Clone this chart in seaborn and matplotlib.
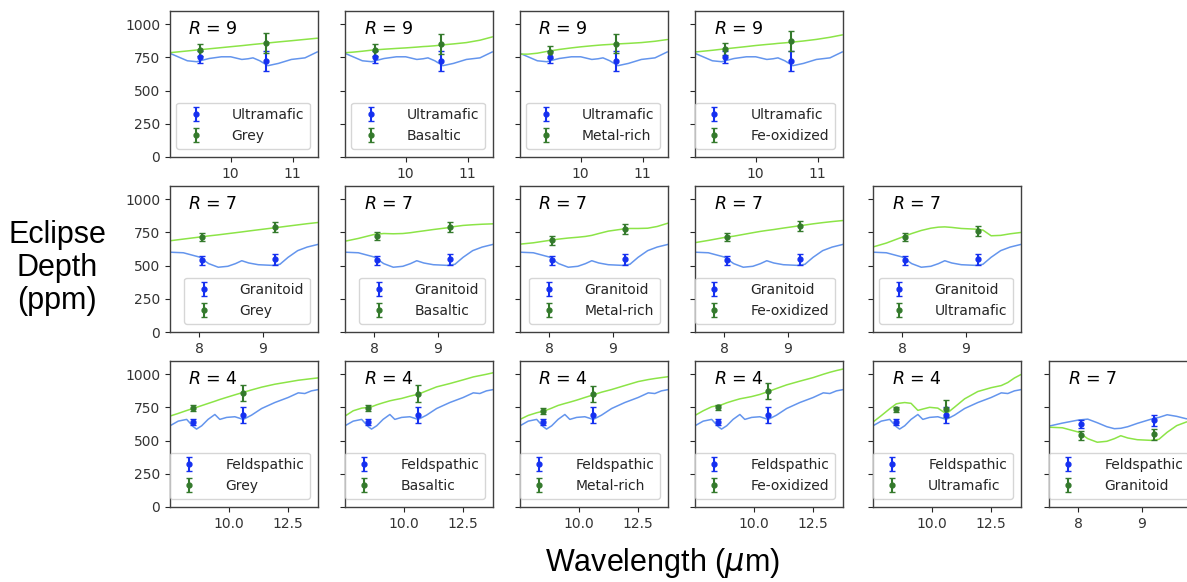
import numpy as np
import pandas as pd
import matplotlib
matplotlib.use('Agg')
import matplotlib.pyplot as plt
import seaborn as sns

# model spectra, R = 9 (Ultramafic vs others)
wl_r9 = [9.0, 9.15, 9.3, 9.45, 9.65, 9.85, 10.0, 10.18, 10.28, 10.36, 10.47, 10.6, 10.77, 10.98, 11.2, 11.4]
ultramafic_r9 = [785, 755, 725, 718, 742, 755, 755, 735, 740, 747, 725, 688, 705, 735, 747, 792]
grey_r9 = [785, 792, 799, 806, 815, 824, 831, 839, 844, 848, 853, 859, 867, 876, 886, 895]
basaltic_r9 = [785, 790, 797, 805, 812, 818, 822, 828, 832, 834, 838, 845, 852, 862, 880, 905]
metal_r9 = [775, 775, 782, 795, 810, 822, 830, 838, 842, 845, 848, 852, 856, 862, 872, 885]
feox_r9 = [790, 797, 804, 812, 822, 832, 840, 848, 852, 856, 860, 866, 874, 886, 902, 920]

# model spectra, R = 7
wl_r7 = [7.5, 7.75, 8.0, 8.15, 8.3, 8.45, 8.57, 8.67, 8.78, 8.93, 9.15, 9.27, 9.4, 9.55, 9.7, 9.87]
granitoid_r7 = [602, 597, 565, 515, 488, 495, 515, 537, 520, 507, 502, 510, 563, 613, 640, 660]
grey_r7 = [685, 700, 715, 724, 732, 741, 748, 754, 761, 770, 783, 790, 798, 807, 816, 825]
basaltic_r7 = [680, 705, 735, 742, 740, 742, 748, 755, 762, 772, 785, 795, 803, 808, 812, 815]
metal_r7 = [660, 672, 690, 700, 708, 714, 720, 728, 742, 760, 775, 780, 780, 782, 795, 820]
feox_r7 = [670, 690, 712, 722, 735, 748, 758, 765, 772, 783, 798, 806, 815, 824, 832, 840]
ultramafic_r7 = [635, 670, 715, 742, 765, 782, 790, 792, 788, 780, 775, 768, 725, 728, 740, 750]
feldspathic_r7 = [605, 632, 655, 662, 635, 605, 590, 593, 605, 630, 662, 675, 695, 683, 665, 665]

# model spectra, R = 4
wl_r4 = [7.48, 7.83, 8.19, 8.47, 8.61, 8.83, 9.1, 9.39, 9.6, 9.89, 10.24, 10.6, 10.95, 11.38, 11.94, 12.51, 12.94, 13.22, 13.5, 13.8]
feldspathic_r4 = [612, 647, 660, 605, 587, 612, 660, 697, 660, 675, 680, 660, 692, 742, 787, 825, 860, 855, 875, 885]
grey_r4 = [685, 705, 727, 743, 751, 764, 780, 797, 810, 826, 845, 864, 882, 903, 925, 942, 955, 961, 967, 973]
basaltic_r4 = [685, 725, 745, 750, 755, 770, 785, 800, 808, 818, 835, 850, 875, 905, 930, 958, 980, 990, 1000, 1012]
metal_r4 = [660, 690, 710, 722, 730, 745, 765, 780, 790, 805, 825, 845, 865, 885, 915, 945, 960, 968, 975, 982]
feox_r4 = [690, 725, 755, 765, 770, 785, 800, 815, 822, 832, 848, 870, 893, 920, 948, 975, 1000, 1015, 1028, 1040]
ultramafic_r4 = [640, 688, 740, 777, 782, 787, 781, 728, 738, 751, 745, 702, 752, 815, 870, 899, 915, 938, 972, 1000]

# simulated observations (two bins)
obs_x_r9 = [9.5, 10.57]
obs_x_r7 = [8.05, 9.19]
obs_x_r4 = [8.44, 10.57]
err_r9 = [45, 75]
err_r7 = [32, 40]
err_r4 = [22, 62]

obs_ultramafic_r9 = [750, 725]
obs_grey_r9 = [805, 862]
obs_basaltic_r9 = [805, 852]
obs_metal_r9 = [788, 855]
obs_feox_r9 = [815, 875]

obs_granitoid_r7 = [540, 547]
obs_grey_r7 = [717, 792]
obs_basaltic_r7 = [725, 790]
obs_metal_r7 = [690, 775]
obs_feox_r7 = [715, 800]
obs_ultramafic_r7 = [717, 760]
obs_feldspathic_r7 = [625, 652]

obs_feldspathic_r4 = [640, 692]
obs_grey_r4 = [748, 860]
obs_basaltic_r4 = [748, 855]
obs_metal_r4 = [722, 850]
obs_feox_r4 = [750, 872]
obs_ultramafic_r4 = [735, 742]

# (row, col, R, wl, blue model, green model, obs x, blue obs, green obs, err, blue name, green name)
panels = [
    (0, 0, 9, wl_r9, ultramafic_r9, grey_r9, obs_x_r9, obs_ultramafic_r9, obs_grey_r9, err_r9, 'Ultramafic', 'Grey'),
    (0, 1, 9, wl_r9, ultramafic_r9, basaltic_r9, obs_x_r9, obs_ultramafic_r9, obs_basaltic_r9, err_r9, 'Ultramafic', 'Basaltic'),
    (0, 2, 9, wl_r9, ultramafic_r9, metal_r9, obs_x_r9, obs_ultramafic_r9, obs_metal_r9, err_r9, 'Ultramafic', 'Metal-rich'),
    (0, 3, 9, wl_r9, ultramafic_r9, feox_r9, obs_x_r9, obs_ultramafic_r9, obs_feox_r9, err_r9, 'Ultramafic', 'Fe-oxidized'),
    (1, 0, 7, wl_r7, granitoid_r7, grey_r7, obs_x_r7, obs_granitoid_r7, obs_grey_r7, err_r7, 'Granitoid', 'Grey'),
    (1, 1, 7, wl_r7, granitoid_r7, basaltic_r7, obs_x_r7, obs_granitoid_r7, obs_basaltic_r7, err_r7, 'Granitoid', 'Basaltic'),
    (1, 2, 7, wl_r7, granitoid_r7, metal_r7, obs_x_r7, obs_granitoid_r7, obs_metal_r7, err_r7, 'Granitoid', 'Metal-rich'),
    (1, 3, 7, wl_r7, granitoid_r7, feox_r7, obs_x_r7, obs_granitoid_r7, obs_feox_r7, err_r7, 'Granitoid', 'Fe-oxidized'),
    (1, 4, 7, wl_r7, granitoid_r7, ultramafic_r7, obs_x_r7, obs_granitoid_r7, obs_ultramafic_r7, err_r7, 'Granitoid', 'Ultramafic'),
    (2, 0, 4, wl_r4, feldspathic_r4, grey_r4, obs_x_r4, obs_feldspathic_r4, obs_grey_r4, err_r4, 'Feldspathic', 'Grey'),
    (2, 1, 4, wl_r4, feldspathic_r4, basaltic_r4, obs_x_r4, obs_feldspathic_r4, obs_basaltic_r4, err_r4, 'Feldspathic', 'Basaltic'),
    (2, 2, 4, wl_r4, feldspathic_r4, metal_r4, obs_x_r4, obs_feldspathic_r4, obs_metal_r4, err_r4, 'Feldspathic', 'Metal-rich'),
    (2, 3, 4, wl_r4, feldspathic_r4, feox_r4, obs_x_r4, obs_feldspathic_r4, obs_feox_r4, err_r4, 'Feldspathic', 'Fe-oxidized'),
    (2, 4, 4, wl_r4, feldspathic_r4, ultramafic_r4, obs_x_r4, obs_feldspathic_r4, obs_ultramafic_r4, err_r4, 'Feldspathic', 'Ultramafic'),
    (2, 5, 7, wl_r7, feldspathic_r7, granitoid_r7, obs_x_r7, obs_feldspathic_r7, obs_granitoid_r7, err_r7, 'Feldspathic', 'Granitoid'),
]

xlims = {9: (9.02, 11.41), 7: (7.54, 9.87), 4: (7.48, 13.78)}
xticks = {9: [10, 11], 7: [8, 9], 4: [10.0, 12.5]}

sns.set_style('ticks')
plt.rcParams['font.family'] = ['DejaVu Sans']

W, H = 1187, 582
fig = plt.figure(figsize=(W / 100, H / 100), dpi=100)

col_left = [170, 345, 520, 695, 873, 1049]
row_bottom = [157, 332, 507]
aw, ah = 148, 146

for (row, col, r, wl, blue_m, green_m, ox, bo, go, err, bname, gname) in panels:
    ax = fig.add_axes([col_left[col] / W, 1 - row_bottom[row] / H, aw / W, ah / H])
    df = pd.DataFrame({'wl': wl, 'blue': blue_m, 'green': green_m})
    sns.lineplot(data=df, x='wl', y='blue', ax=ax, color='#6495ed', lw=1.1, legend=False)
    sns.lineplot(data=df, x='wl', y='green', ax=ax, color='#8ce447', lw=1.1, legend=False)
    ax.errorbar(ox, bo, yerr=err, fmt='o', color='#1530f0', ms=3.5, capsize=2, elinewidth=1.5, label=bname)
    ax.errorbar(ox, go, yerr=err, fmt='o', color='#347a2c', ms=3.5, capsize=2, elinewidth=1.5, label=gname)
    ax.set_xlim(*xlims[r])
    ax.set_ylim(0, 1100)
    ax.set_xticks(xticks[r])
    ax.set_yticks([0, 250, 500, 750, 1000])
    if col != 0:
        ax.set_yticklabels([])
    ax.set_xlabel('')
    ax.set_ylabel('')
    ax.tick_params(labelsize=10, length=3.5, color='.15', labelcolor='.2')
    for s in ax.spines.values():
        s.set_linewidth(1.0)
        s.set_color('.25')
    ax.text(0.125, 0.88, f'$R$ = {r}', transform=ax.transAxes, fontsize=12.5, va='center', color='black')
    ax.legend(loc='lower right', fontsize=10, handletextpad=1.6, borderaxespad=0.6)

fig.text(57 / W, 1 - 268 / H, 'Eclipse\nDepth\n(ppm)', ha='center', va='center',
         fontsize=22, family=['Liberation Sans'], linespacing=1.15, color='black')
fig.text(662 / W, 1 - 563 / H, r'Wavelength ($\mu$m)', ha='center', va='center',
         fontsize=22, family=['Liberation Sans'], color='black')

fig.savefig('out.png', dpi=100)
